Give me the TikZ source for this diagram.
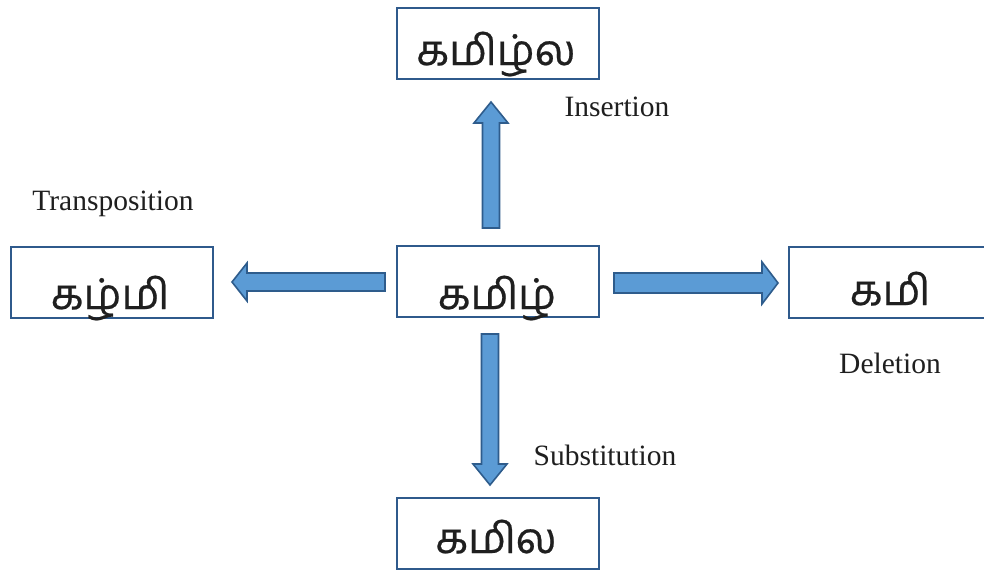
\documentclass[tikz,border=0pt]{standalone}
\usepackage{fontspec}
\setmainfont{Liberation Serif}
\newfontfamily\tamilfont[Script=Tamil,RawFeature={embolden=0.5}]{Hind Madurai}
\definecolor{boxline}{RGB}{47,90,140}
\definecolor{arrowfill}{RGB}{91,155,213}
\definecolor{arrowline}{RGB}{46,92,140}
\tikzset{
  wordbox/.style={draw=boxline, line width=2pt, fill=white, minimum width=202pt, minimum height=71pt, inner sep=0pt},
  word/.style={font=\tamilfont\fontsize{42.5}{44}\selectfont, text=black!88, anchor=base, inner sep=0pt},
  oplabel/.style={font=\fontsize{29.5}{30}\selectfont, text=black!88, inner sep=0pt},
  arrowstyle/.style={draw=arrowline, fill=arrowfill, line width=1.6pt, line join=miter}
}
% block arrow: start point, direction, length, shaft half width, head half width, head length
\newcommand\blockarrow[6]{%
  \draw[arrowstyle, shift={(#1)}, rotate=#2]
    (0,-#4) -- (#3-#6,-#4) -- (#3-#6,-#5) -- (#3,0) -- (#3-#6,#5) -- (#3-#6,#4) -- (0,#4) -- cycle;}
\begin{document}
\begin{tikzpicture}[x=1pt, y=-1pt]
  \clip (0,0) rectangle (984,570);
  \fill[white] (0,0) rectangle (984,570);

  % the source word and its four edits
  \node[wordbox] (src) at (498,281) {};
  \node[wordbox] (ins) at (498,43) {};
  \node[wordbox] (tra) at (112,282) {};
  \node[wordbox] (del) at (890,282) {};
  \node[wordbox] (sub) at (498,533) {};

  \node[word] (srcw) at (497,309) {கமிழ்};
  \node[word] (insw) at (496,65) {கமிழ்ல};
  \node[word] (traw) at (110,309) {கழ்மி};
  \node[word] (delw) at (890,305) {கமி};
  \node[word] (subw) at (496,553) {கமில};

  % block arrows from the source word
  \blockarrow{491,228}{90}{126}{8.5}{17}{21}
  \blockarrow{385,282}{180}{153}{9}{19}{15}
  \blockarrow{614,283}{0}{164}{10}{21}{16}
  \blockarrow{490,334}{270}{151}{8.5}{17}{21}

  % operation names
  \node[oplabel] (insl) at (617,107) {Insertion};
  \node[oplabel] (tral) at (113,204) {Transposition};
  \node[oplabel] (dell) at (890,363) {Deletion};
  \node[oplabel] (subl) at (605,455) {Substitution};
\end{tikzpicture}
\end{document}
